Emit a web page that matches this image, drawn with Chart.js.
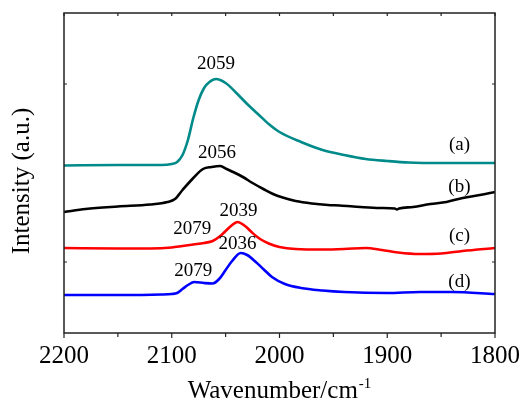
<!DOCTYPE html>
<html>
<head>
<meta charset="utf-8">
<script src="https://cdn.jsdelivr.net/npm/chart.js@4.4.1/dist/chart.umd.min.js"></script>
<style>
html,body{margin:0;padding:0;background:#fff;}
#wrap{width:521px;height:402px;}
</style>
</head>
<body>
<div id="wrap"><canvas id="c" width="521" height="402"></canvas></div>
<script>
// ---- data (wavenumber in cm^-1, intensity in arbitrary units) ----
const aWn  = [2200,2150,2110,2100,2095,2090,2085,2080,2075,2070,2065,2059,2050,2040,2030,2020,2010,2000,1980,1960,1940,1920,1900,1880,1850,1800];
const aVal = [167.5,168,168,169,171,178,193,215,233,245,251,254,250,240,229,219,209,201,191,183,178,174,172,170.5,170,170];

const bWn  = [2200,2180,2150,2120,2104,2097,2090,2080,2071,2063,2055,2049,2043,2034,2025,2015,2006,1997,1985,1970,1955,1944,1925,1907,1893,1891,1889,1876,1860,1845,1830,1814,1800];
const bVal = [121,124,126.5,128.5,131,134,143,155,164,166,167,164,161,156,150,144,139,135.5,132,129.5,128,127.5,126,125,124.5,123.5,124.5,126,129,131,135,138,141];

const cWn  = [2200,2150,2120,2100,2090,2080,2070,2062,2055,2050,2045,2039,2032,2025,2018,2010,2000,1985,1960,1940,1920,1905,1890,1870,1850,1830,1800];
const cVal = [85,84.5,84.5,85.5,87,88.5,90,92,97,102,107,111,107,100,94,89.5,86,84,83.5,84,85,83,80.5,79,79.5,82,85];

const dWn  = [2200,2150,2110,2100,2095,2090,2085,2079,2070,2062,2056,2050,2044,2036,2030,2022,2015,2007,1995,1980,1960,1940,1900,1870,1840,1800];
const dVal = [38,38,38.5,39,40,44,48,51,50,49.5,54,63,72,80,78,71,64,56,49,45,42.5,41,40,41,41,39];

const seriesNames  = ['(a)','(b)','(c)','(d)'];
const seriesColors = ['#008a8a','#000000','#ff0000','#0000ff'];

// peak annotations: text, wavenumber, intensity
const peakText = ['2059','2056','2079','2039','2036','2079'];
const peakWn   = [2059,2058,2081,2038,2039,2080];
const peakVal  = [269,180,104,122,89,62];

// series labels at right
const nameWn  = [1833,1833,1833,1833];
const nameVal = [188,146,96.5,51];

const xMajor = [2200,2100,2000,1900,1800];
const xMinor = [2150,2050,1950,1850];
const yTicks = [71,249];

const pts = (w,v)=>w.map((x,i)=>({x:x,y:v[i]}));
const seriesData = [pts(aWn,aVal),pts(bWn,bVal),pts(cWn,cVal),pts(dWn,dVal)];

const SERIF = '"Liberation Serif","Times New Roman",serif';

const decor = {
  id:'decor',
  afterDraw(chart){
    const {ctx, chartArea:ca, scales:{x,y}} = chart;
    ctx.save();
    // frame
    ctx.strokeStyle='#222'; ctx.lineWidth=1.5;
    ctx.strokeRect(ca.left, ca.top, ca.right-ca.left, ca.bottom-ca.top);
    ctx.lineWidth=1.2;
    ctx.beginPath();
    xMajor.forEach(v=>{const px=x.getPixelForValue(v);
      ctx.moveTo(px,ca.bottom); ctx.lineTo(px,ca.bottom+5);
      ctx.moveTo(px,ca.top); ctx.lineTo(px,ca.top+3);});
    xMinor.forEach(v=>{const px=x.getPixelForValue(v);
      ctx.moveTo(px,ca.bottom); ctx.lineTo(px,ca.bottom+4);
      ctx.moveTo(px,ca.top); ctx.lineTo(px,ca.top+3);});
    yTicks.forEach(v=>{const py=y.getPixelForValue(v);
      ctx.moveTo(ca.left,py); ctx.lineTo(ca.left+3,py);
      ctx.moveTo(ca.right,py); ctx.lineTo(ca.right-3,py);});
    ctx.stroke();
    // annotations
    ctx.fillStyle='#000';
    ctx.font='19px '+SERIF;
    ctx.textAlign='center'; ctx.textBaseline='middle';
    peakText.forEach((t,i)=>ctx.fillText(t, x.getPixelForValue(peakWn[i]), y.getPixelForValue(peakVal[i])));
    seriesNames.forEach((t,i)=>ctx.fillText(t, x.getPixelForValue(nameWn[i]), y.getPixelForValue(nameVal[i])));
    // x title with superscript
    ctx.font='25px '+SERIF;
    ctx.textBaseline='alphabetic';
    const main='Wavenumber/cm', sup='-1';
    const wMain=ctx.measureText(main).width;
    ctx.font='15px '+SERIF;
    const wSup=ctx.measureText(sup).width;
    const cx=(ca.left+ca.right)/2;
    const startX=cx-(wMain+wSup+1)/2;
    ctx.textAlign='left';
    ctx.font='25px '+SERIF;
    ctx.fillText(main,startX,398);
    ctx.font='15px '+SERIF;
    ctx.fillText(sup,startX+wMain+1,388);
    // y title
    ctx.save();
    ctx.translate(22,(ca.top+ca.bottom)/2+8);
    ctx.rotate(-Math.PI/2);
    ctx.font='25px '+SERIF;
    ctx.textAlign='center'; ctx.textBaseline='middle';
    ctx.fillText('Intensity (a.u.)',0,0);
    ctx.restore();
    ctx.restore();
  }
};

new Chart(document.getElementById('c'),{
  type:'line',
  data:{datasets:seriesData.map((d,i)=>({
    label:seriesNames[i], data:d, borderColor:seriesColors[i],
    borderWidth:2.6, pointRadius:0, fill:false,
    cubicInterpolationMode:'monotone', tension:0.4
  }))},
  options:{
    responsive:false, animation:false, devicePixelRatio:1,
    layout:{padding:{left:64,right:26,top:13,bottom:0}},
    plugins:{legend:{display:false},tooltip:{enabled:false}},
    scales:{
      x:{type:'linear', reverse:true, min:1800, max:2200,
        grid:{display:false, drawTicks:false}, border:{display:false},
        ticks:{stepSize:100, color:'#000', padding:8, font:{family:SERIF,size:25}, maxRotation:0,
          callback:(v)=>String(v)},
        afterFit(s){s.height=69; s.paddingLeft=0; s.paddingRight=0;}
      },
      y:{display:false, min:0, max:320}
    }
  },
  plugins:[decor]
});
</script>
</body>
</html>
